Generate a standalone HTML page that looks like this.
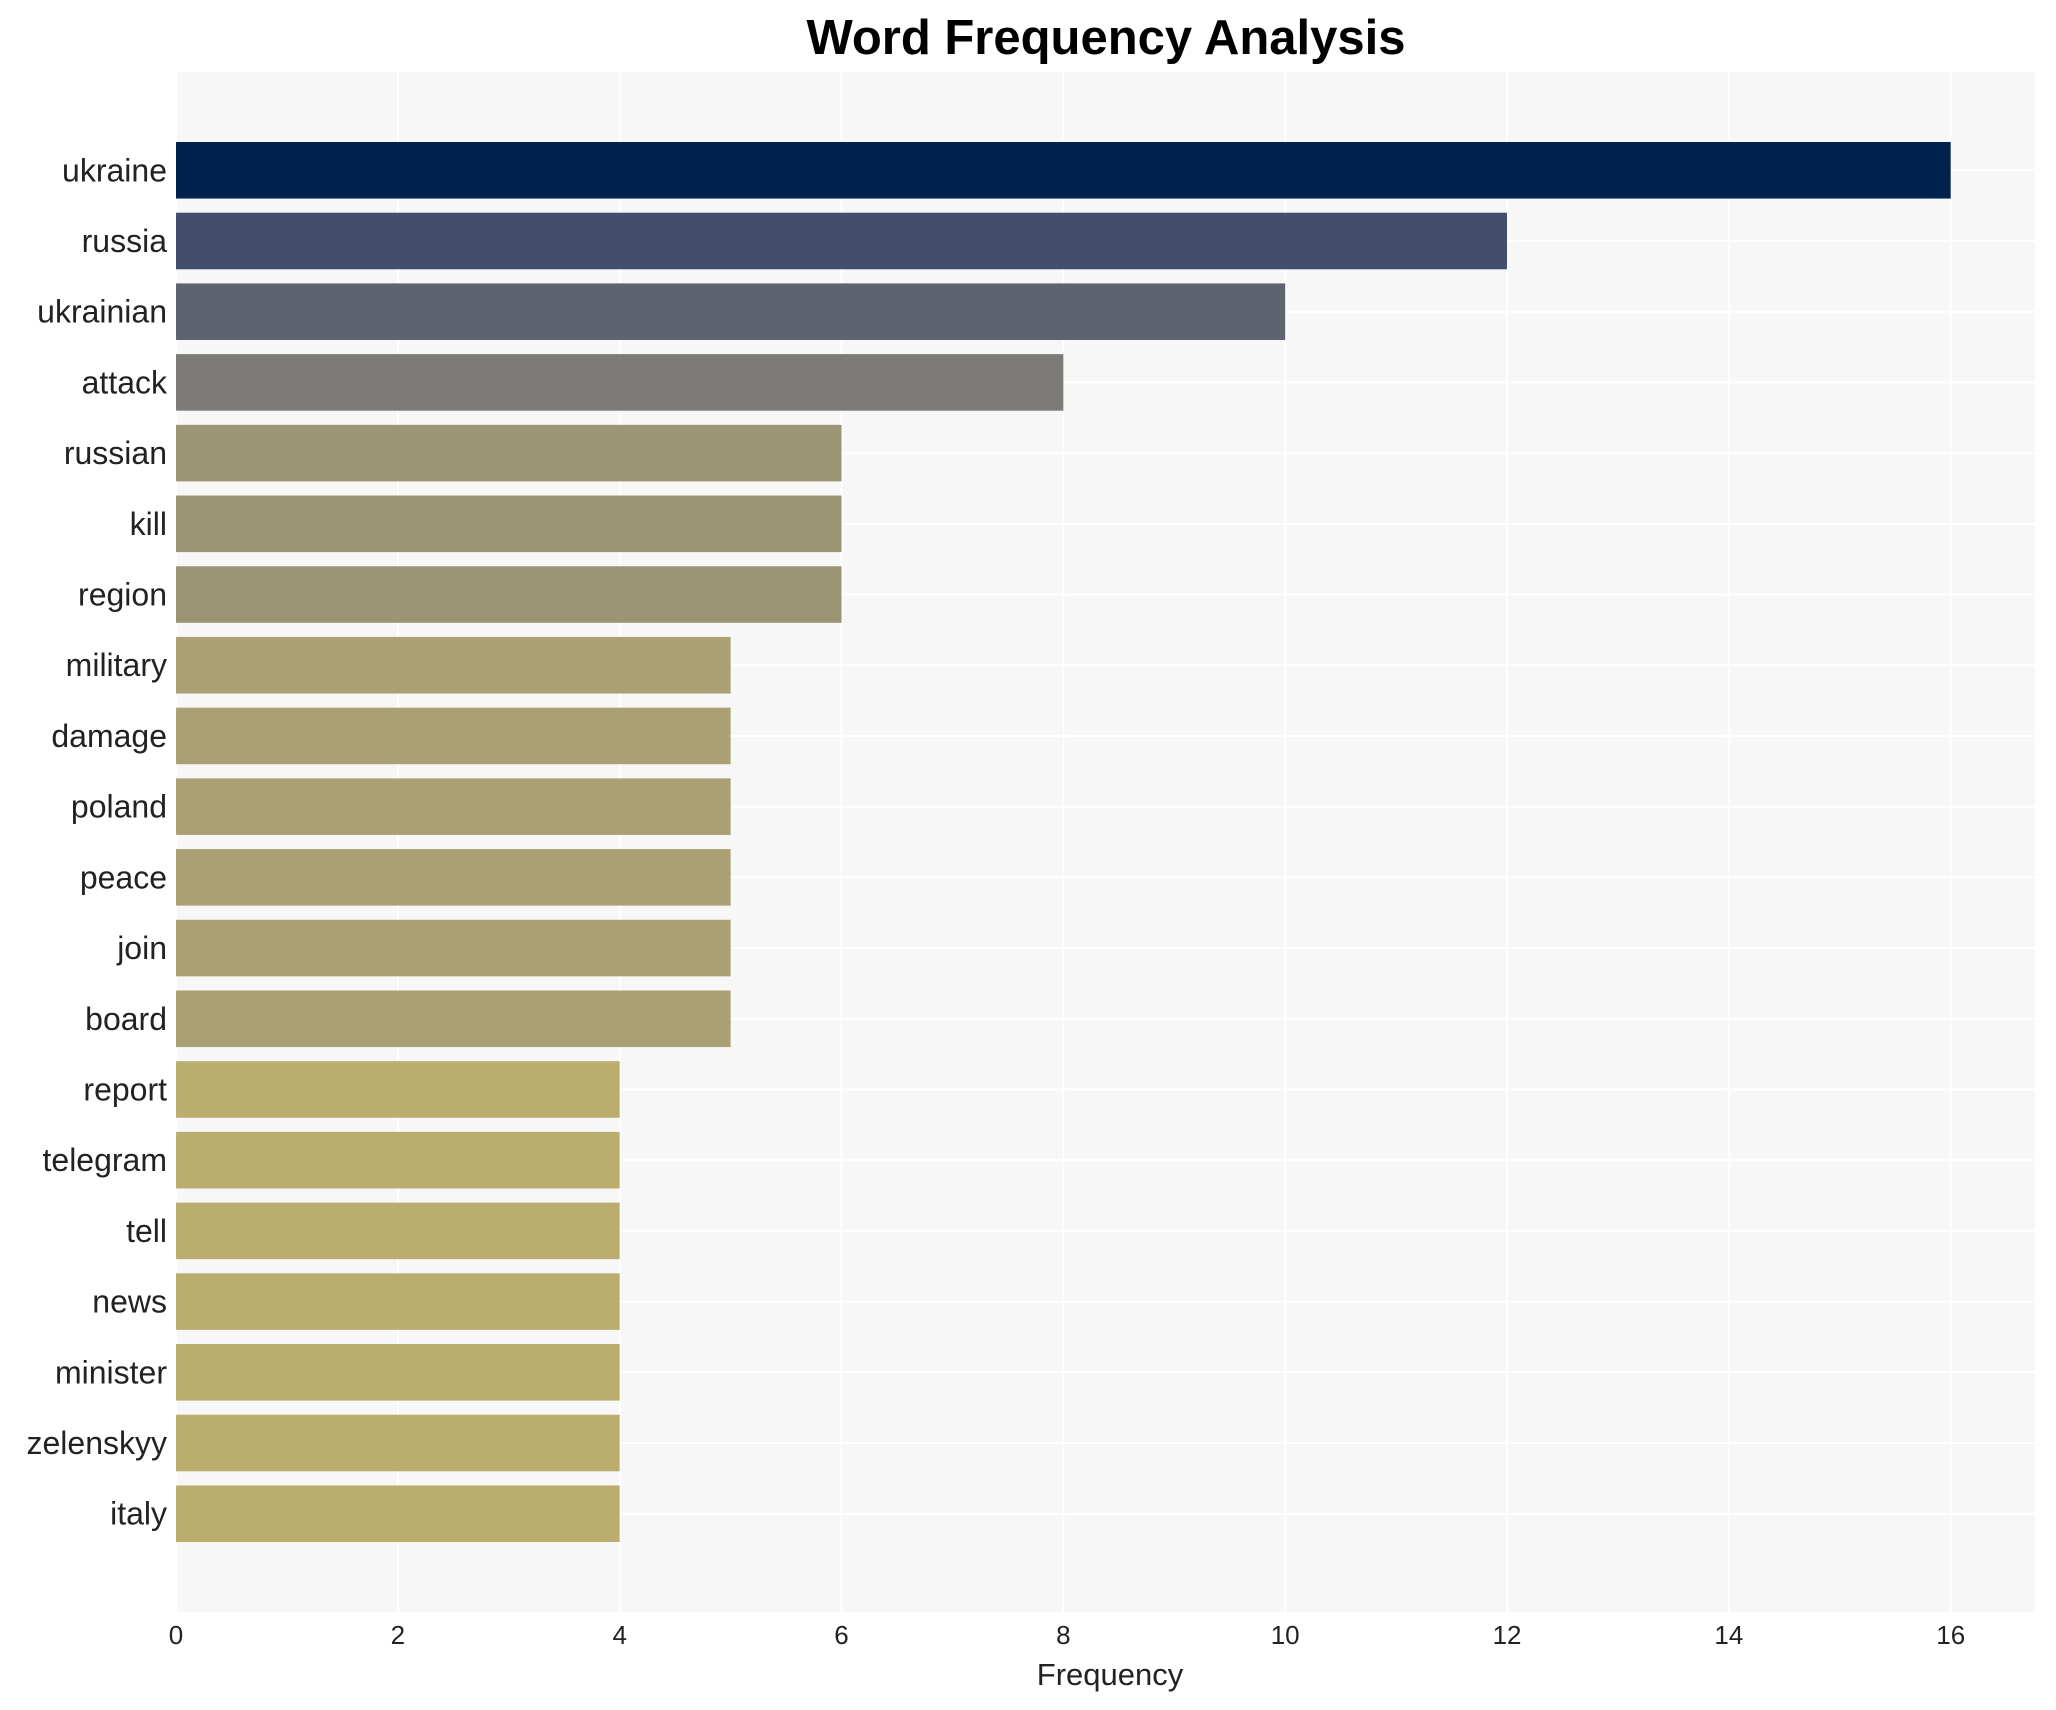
<!DOCTYPE html>
<html><head><meta charset="utf-8"><style>
html,body{margin:0;padding:0;background:#fff;}
svg{display:block;font-family:"Liberation Sans",Arial,sans-serif;}
</style></head><body>
<svg id="chart" width="2056" height="1710" viewBox="0 0 2056 1710">
<text x="1106" y="54" text-anchor="middle" font-size="49" font-weight="bold" fill="#000">Word Frequency Analysis</text>
<rect x="176" y="72" width="1859" height="1540" fill="#f7f7f7"/>
<g id="grid"></g><g id="bars"></g><g id="ylabels"></g><g id="xticks"></g>
<text x="1110" y="1685" text-anchor="middle" font-size="31" fill="#222">Frequency</text>
</svg>
<script>
const categories=["ukraine","russia","ukrainian","attack","russian","kill","region","military","damage","poland","peace","join","board","report","telegram","tell","news","minister","zelenskyy","italy"];
const values=[16,12,10,8,6,6,6,5,5,5,5,5,5,4,4,4,4,4,4,4];
const colors=["#00224e","#434e6c","#5f636f","#7c7b78","#9b9475","#9b9475","#9b9475","#aba074","#aba074","#aba074","#aba074","#aba074","#aba074","#bbad6d","#bbad6d","#bbad6d","#bbad6d","#bbad6d","#bbad6d","#bbad6d"];
const xTicks=[0,2,4,6,8,10,12,14,16];
const NS="http://www.w3.org/2000/svg";
const L=176,R=2035,T=72,B=1612,xmax=16.76;
const xs=v=>L+v/xmax*(R-L);
const step=(B-T)/(categories.length-1+2*1.39);
const yc=i=>T+step*1.39+i*step;
const bh=step*0.8;
function mk(t,a,p){const e=document.createElementNS(NS,t);for(const k in a)e.setAttribute(k,a[k]);p.appendChild(e);return e;}
const grid=document.getElementById('grid'),bars=document.getElementById('bars'),yl=document.getElementById('ylabels'),xt=document.getElementById('xticks');
xTicks.forEach(v=>{
 const g=mk('line',{x1:xs(v),x2:xs(v),y1:T,y2:B,stroke:'#fff','stroke-width':2},grid);
 
 
 const t=mk('text',{x:xs(v),y:1644,'text-anchor':'middle','font-size':26,fill:'#222'},xt);
 t.textContent=v;
 
 
});
categories.forEach((c,i)=>{
 const g=mk('line',{x1:L,x2:R,y1:yc(i),y2:yc(i),stroke:'#fff','stroke-width':2},grid);
 
 
 const r=mk('rect',{x:L,y:yc(i)-bh/2,width:xs(values[i])-L,height:bh,fill:colors[i]},bars);
 
 
 const t=mk('text',{x:L-9,y:yc(i)+11,'text-anchor':'end','font-size':32,fill:'#222'},yl);
 t.textContent=c;
 
 
});
</script>
</body></html>
